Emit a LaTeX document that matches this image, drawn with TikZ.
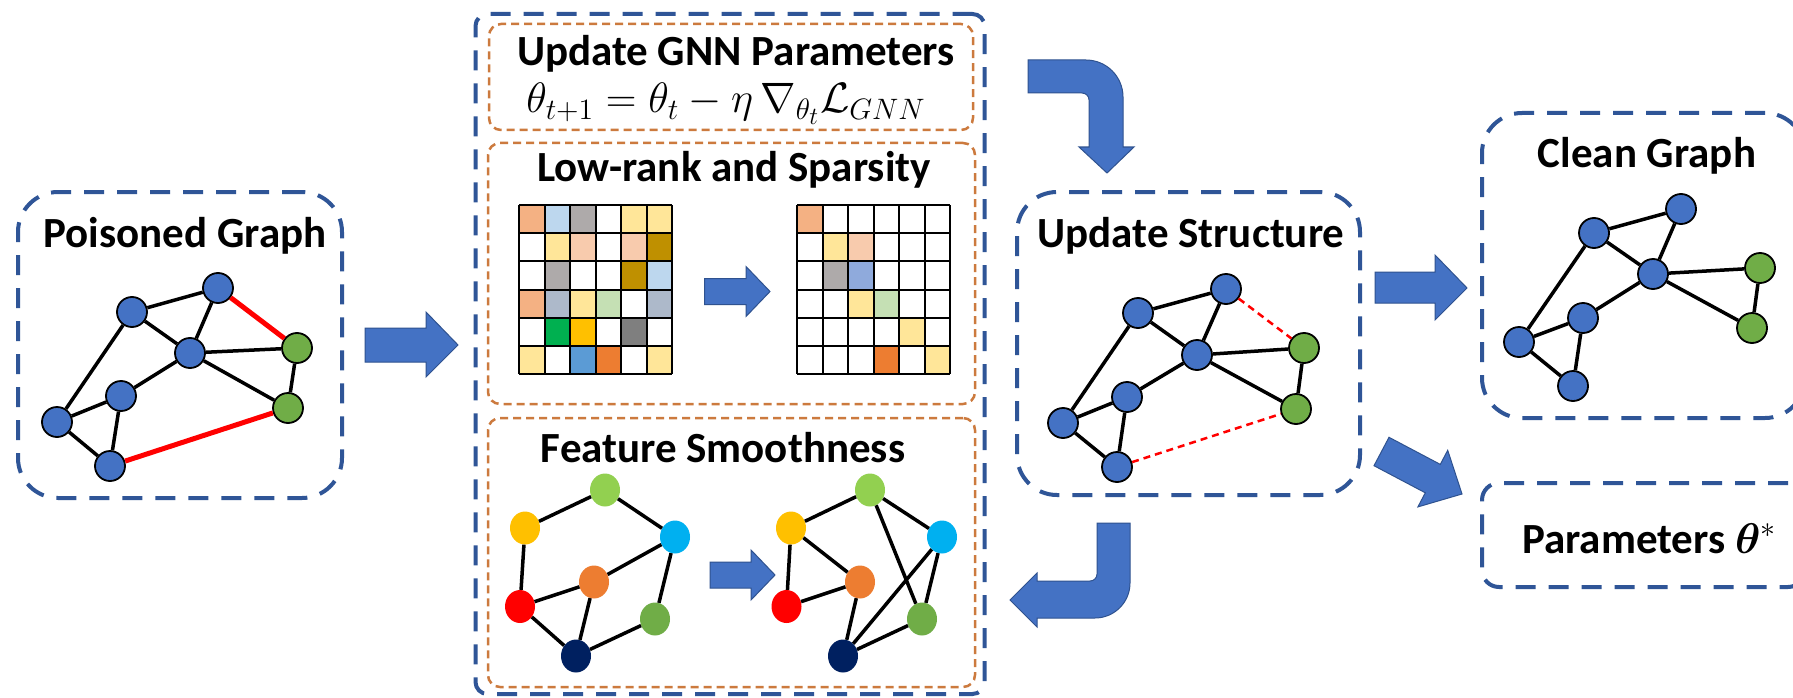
\documentclass[tikz,border=0pt]{standalone}
\usepackage{amsmath,bm}
\usepackage{graphicx}
\usepackage{fontspec}
\setmainfont{Carlito}
\usetikzlibrary{shapes.geometric}
\definecolor{boxblue}{HTML}{2F5597}
\definecolor{boxorange}{RGB}{204,122,62}
\definecolor{arrowfill}{HTML}{4472C4}
\definecolor{arrowdraw}{HTML}{2F528F}
\definecolor{nodeblue}{HTML}{4472C4}
\definecolor{nodegreen}{HTML}{70AD47}
\definecolor{msal}{HTML}{F4B183}
\definecolor{mlb}{HTML}{BDD7EE}
\definecolor{mgr}{HTML}{AEAAAA}
\definecolor{mly}{HTML}{FFE699}
\definecolor{mpe}{HTML}{F8CBAD}
\definecolor{mdg}{HTML}{BF9000}
\definecolor{mbg}{HTML}{ADB9CA}
\definecolor{mlg}{HTML}{C5E0B4}
\definecolor{mgn}{HTML}{00B050}
\definecolor{mgo}{HTML}{FFC000}
\definecolor{mdk}{HTML}{7F7F7F}
\definecolor{mbl}{HTML}{5B9BD5}
\definecolor{mor}{HTML}{ED7D31}
\definecolor{mrb}{HTML}{8FAADC}
\definecolor{fLgc}{HTML}{92D050}
\definecolor{fYc}{HTML}{FFC000}
\definecolor{fCyc}{HTML}{00B0F0}
\definecolor{fOc}{HTML}{ED7D31}
\definecolor{fRc}{HTML}{FF0000}
\definecolor{fGc}{HTML}{70AD47}
\definecolor{fNc}{HTML}{002060}
\newcommand{\drawmat}[3]{%
  \foreach \cl [count=\i from 0] in {#3} {%
    \pgfmathtruncatemacro{\mc}{mod(\i,6)}%
    \pgfmathtruncatemacro{\mr}{\i/6}%
    \fill[\cl] ({#1+\mc*25.5},{#2+\mr*28.2}) rectangle ++(25.5,28.2);
  }%
  \foreach \k in {0,...,6} {%
    \draw[line width=2pt] ({#1+\k*25.5},#2) -- ++(0,169.2);
    \draw[line width=2pt] (#1,{#2+\k*28.2}) -- ++(153,0);
  }%
}
\begin{document}
\begin{tikzpicture}[x=1pt,y=-1pt,
  bluebox/.style={draw=boxblue, line width=4pt, dash pattern=on 20pt off 13pt, rounded corners=40pt, inner sep=0pt},
  orangebox/.style={draw=boxorange, line width=2.5pt, dash pattern=on 8pt off 5pt, rounded corners=12pt, inner sep=0pt},
  gnode/.style={circle, draw=black, line width=1.8pt, fill=nodeblue, minimum size=30pt, inner sep=0pt},
  gnodeg/.style={gnode, fill=nodegreen},
  gedge/.style={line width=3.5pt, black},
  redge/.style={line width=5pt, red},
  rdash/.style={line width=2.5pt, red, dash pattern=on 7pt off 5pt},
  fnode/.style={ellipse, minimum width=30pt, minimum height=33pt, inner sep=0pt},
  fedge/.style={line width=3.5pt, black},
  barrow/.style={fill=arrowfill, draw=arrowdraw, line width=1pt},
  ttl/.style={font=\bfseries\fontsize{43pt}{50pt}\selectfont, inner sep=0pt, anchor=base}
]
\useasboundingbox (0,0) rectangle (1793,698);
\fill[white] (0,0) rectangle (1793,698);

% ---------- boxes ----------
\node[bluebox, minimum width=324pt, minimum height=306pt] (pgbox) at (180,345) {};
\node[bluebox, rounded corners=12pt, minimum width=509pt, minimum height=680pt] (midbox) at (730,354) {};
\node[orangebox, minimum width=484pt, minimum height=106pt] (ob1) at (731,77) {};
\node[orangebox, minimum width=487pt, minimum height=261pt] (ob2) at (731.5,273.5) {};
\node[orangebox, minimum width=487pt, minimum height=269pt] (ob3) at (731.5,552.5) {};
\node[bluebox, minimum width=343pt, minimum height=303pt] (usbox) at (1188.5,343.5) {};
\node[bluebox, minimum width=323pt, minimum height=305pt] (cgbox) at (1643.5,265.5) {};
\node[bluebox, rounded corners=17pt, minimum width=323pt, minimum height=104pt] (parbox) at (1643.5,535) {};

% ---------- titles ----------
\node[ttl] (tgnn) at (736,66) {Update GNN Parameters};
\node[anchor=base, inner sep=0pt] (formula) at (726,113) {\scalebox{2.05}{\fontsize{20.74pt}{25pt}\selectfont$\theta_{t+1} = \theta_t - \eta\,\nabla_{\theta_t}\mathcal{L}_{GNN}$}};
\node[ttl] (tpg) at (185,247) {Poisoned Graph};
\node[ttl] (tlr) at (734,181) {Low-rank and Sparsity};
\node[ttl] (tfs) at (723,462) {Feature Smoothness};
\node[ttl] (tus) at (1191,247) {Update Structure};
\node[ttl] (tcg) at (1647,167) {Clean Graph};
\node[ttl, anchor=base west] (tpar) at (1522,553) {Parameters \scalebox{2.07}{\fontsize{20.74pt}{25pt}\selectfont$\boldsymbol{\theta}^{*}$}};

% ---------- poisoned graph ----------
\node[gnode] (pA) at (132,312) {};
\node[gnode] (pB) at (218,288) {};
\node[gnode] (pC) at (190,353) {};
\node[gnodeg] (pG1) at (297,348) {};
\node[gnodeg] (pG2) at (288,408) {};
\node[gnode] (pD) at (121,396) {};
\node[gnode] (pE) at (57,422) {};
\node[gnode] (pF) at (110,466) {};
\draw[gedge] (pA) -- (pB) (pA) -- (pC) (pB) -- (pC) (pC) -- (pG1) (pC) -- (pG2)
  (pG1) -- (pG2) (pA) -- (pE) (pD) -- (pC) (pE) -- (pD) (pE) -- (pF) (pD) -- (pF);
\draw[redge] (pB) -- (pG1) (pF) -- (pG2);

% ---------- update structure graph ----------
\node[gnode] (uA) at (1138,313) {};
\node[gnode] (uB) at (1226,289) {};
\node[gnode] (uC) at (1197,355) {};
\node[gnodeg] (uG1) at (1304,348) {};
\node[gnodeg] (uG2) at (1296,409) {};
\node[gnode] (uD) at (1127,397) {};
\node[gnode] (uE) at (1063,423) {};
\node[gnode] (uF) at (1117,467) {};
\draw[gedge] (uA) -- (uB) (uA) -- (uC) (uB) -- (uC) (uC) -- (uG1) (uC) -- (uG2)
  (uG1) -- (uG2) (uA) -- (uE) (uD) -- (uC) (uE) -- (uD) (uE) -- (uF) (uD) -- (uF);
\draw[rdash] (uB) -- (uG1) (uF) -- (uG2);

% ---------- clean graph ----------
\node[gnode] (cA) at (1594,233) {};
\node[gnode] (cB) at (1681,209) {};
\node[gnode] (cC) at (1653,274) {};
\node[gnodeg] (cG1) at (1760,268) {};
\node[gnodeg] (cG2) at (1752,328) {};
\node[gnode] (cD) at (1583,318) {};
\node[gnode] (cE) at (1519,342) {};
\node[gnode] (cF) at (1573,386) {};
\draw[gedge] (cA) -- (cB) (cA) -- (cC) (cB) -- (cC) (cC) -- (cG1) (cC) -- (cG2)
  (cG1) -- (cG2) (cA) -- (cE) (cD) -- (cC) (cE) -- (cD) (cE) -- (cF) (cD) -- (cF);

% ---------- matrices ----------
\drawmat{519}{205}{msal,mlb,mgr,white,mly,mly, white,mly,mpe,white,mpe,mdg, white,mgr,white,white,mdg,mlb, msal,mbg,mly,mlg,white,mbg, white,mgn,mgo,white,mdk,white, mly,white,mbl,mor,white,mly}
\drawmat{797}{205}{msal,white,white,white,white,white, white,mly,mpe,white,white,white, white,mgr,mrb,white,white,white, white,white,mly,mlg,white,white, white,white,white,white,mly,white, white,white,white,mor,white,mly}

% ---------- feature smoothness graphs ----------
\node[fnode, fill=fLgc] (fLg) at (605,490) {};
\node[fnode, fill=fYc] (fY) at (525,528) {};
\node[fnode, fill=fCyc] (fCy) at (675,537) {};
\node[fnode, fill=fOc] (fO) at (594,582) {};
\node[fnode, fill=fRc] (fR) at (520,606.5) {};
\node[fnode, fill=fGc] (fG) at (655,619) {};
\node[fnode, fill=fNc] (fN) at (576,656) {};
\draw[fedge] (fY) -- (fLg) (fLg) -- (fCy) (fY) -- (fR) (fR) -- (fO) (fO) -- (fCy)
  (fR) -- (fN) (fO) -- (fN) (fCy) -- (fG) (fG) -- (fN);

\node[fnode, fill=fLgc] (gLg) at (870,490) {};
\node[fnode, fill=fYc] (gY) at (791,528) {};
\node[fnode, fill=fCyc] (gCy) at (942,537) {};
\node[fnode, fill=fOc] (gO) at (860,582) {};
\node[fnode, fill=fRc] (gR) at (786.5,606.5) {};
\node[fnode, fill=fGc] (gG) at (922,619) {};
\node[fnode, fill=fNc] (gN) at (843,656) {};
\draw[fedge] (gY) -- (gLg) (gLg) -- (gCy) (gY) -- (gR) (gY) -- (gO) (gR) -- (gO)
  (gO) -- (gN) (gLg) -- (gG) (gCy) -- (gN) (gCy) -- (gG) (gG) -- (gN);

% ---------- block arrows ----------
\draw[barrow] (365,328) -- (426,328) -- (426,312) -- (458,345) -- (426,377) -- (426,362) -- (365,362) -- cycle;
\draw[barrow] (704.5,278.5) -- (746,278.5) -- (746,266.5) -- (770,291.5) -- (746,316.5) -- (746,304.5) -- (704.5,304.5) -- cycle;
\draw[barrow] (710,562) -- (751,562) -- (751,550) -- (775,575) -- (751,600) -- (751,588) -- (710,588) -- cycle;
\draw[barrow] (1375,272) -- (1435,272) -- (1435,255) -- (1467,288) -- (1435,320) -- (1435,303) -- (1375,303) -- cycle;
\draw[barrow] (1389,437.3) -- (1440.3,464.4) -- (1447.7,450.3) -- (1462,494) -- (1417.9,506.9) -- (1425.3,492.8) -- (1374,465.7) -- cycle;
% bent arrow top (GNN -> structure)
\draw[barrow] (1028,60) -- (1086,60) .. controls (1106.4,60) and (1123,76.6) .. (1123,97)
  -- (1123,147) -- (1134,147) -- (1107,173) -- (1079,147) -- (1089,147) -- (1089,100)
  .. controls (1089,96.1) and (1085.9,93) .. (1082,93) -- (1028,93) -- cycle;
% bent arrow bottom (structure -> back)
\draw[barrow] (1097,523) -- (1130,523) -- (1130,583) .. controls (1130,602.3) and (1114.3,618) .. (1095,618)
  -- (1037,618) -- (1037,627) -- (1010,600) -- (1037,573) -- (1037,581) -- (1090,581)
  .. controls (1093.9,581) and (1097,577.9) .. (1097,574) -- cycle;
\end{tikzpicture}
\end{document}
